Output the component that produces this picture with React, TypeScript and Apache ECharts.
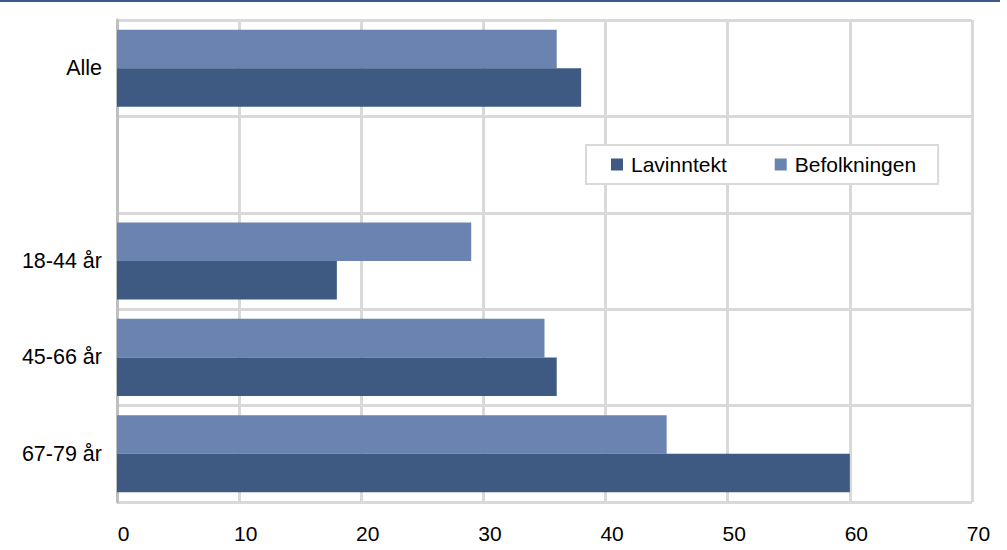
import React, { useEffect, useRef } from "react";
import * as echarts from "echarts";

// Age groups, top to bottom; the empty entry leaves a blank row under "Alle".
const categories = ["Alle", "", "18-44 år", "45-66 år", "67-79 år"];
const befolkning = [36, null, 29, 35, 45];
const lavinntekt = [38, null, 18, 36, 60];
const xTicks = [0, 10, 20, 30, 40, 50, 60, 70];

const DARK = "#3E5A82";
const LIGHT = "#6A83B1";
const GRID = "#D9D9D9";
const FONT = "Liberation Sans, Arial, sans-serif";

export default function App() {
  const ref = useRef<HTMLDivElement>(null);

  useEffect(() => {
    if (!ref.current) return;
    const chart = echarts.init(ref.current, undefined, { renderer: "svg" });
    chart.setOption({
      animation: false,
      backgroundColor: "#ffffff",
      textStyle: { fontFamily: FONT },
      graphic: [
        {
          type: "rect",
          left: 0,
          top: 0,
          shape: { x: 0, y: 0, width: 1000, height: 2 },
          style: { fill: "#3B5A8A" },
        },
      ],
      grid: { left: 117, right: 35, top: 20, bottom: 48, containLabel: false },
      legend: {
        data: ["Lavinntekt", "Befolkningen"],
        left: 586,
        top: 145,
        orient: "horizontal",
        itemWidth: 12,
        itemHeight: 12,
        itemGap: 48,
        icon: "rect",
        padding: [9, 22, 9, 25],
        borderColor: GRID,
        borderWidth: 2,
        backgroundColor: "#ffffff",
        textStyle: {
          fontFamily: FONT,
          fontSize: 21,
          color: "#000000",
          padding: [0, 0, 0, 3],
        },
      },
      xAxis: {
        type: "value",
        min: 0,
        max: xTicks[xTicks.length - 1],
        interval: 10,
        axisLine: { show: false },
        axisTick: { show: false },
        axisLabel: {
          margin: 21,
          fontFamily: FONT,
          fontSize: 21,
          color: "#000000",
          padding: [0, 0, 0, 13],
        },
        splitLine: { show: true, lineStyle: { color: GRID, width: 3 } },
      },
      yAxis: {
        type: "category",
        data: categories,
        inverse: true,
        axisLine: { show: true, lineStyle: { color: "#BFBFBF", width: 3 } },
        axisTick: { show: false },
        axisLabel: {
          margin: 15,
          fontFamily: FONT,
          fontSize: 21.5,
          color: "#000000",
        },
        splitLine: { show: true, lineStyle: { color: GRID, width: 3 } },
      },
      series: [
        {
          name: "Befolkningen",
          type: "bar",
          data: befolkning,
          itemStyle: { color: LIGHT },
          barGap: "0%",
          barCategoryGap: "20%",
        },
        {
          name: "Lavinntekt",
          type: "bar",
          data: lavinntekt,
          itemStyle: { color: DARK },
          barGap: "0%",
          barCategoryGap: "20%",
        },
      ],
    });
    return () => chart.dispose();
  }, []);

  return (
    <div
      ref={ref}
      style={{ position: "fixed", left: 0, top: 0, width: 1007, height: 550 }}
    />
  );
}
